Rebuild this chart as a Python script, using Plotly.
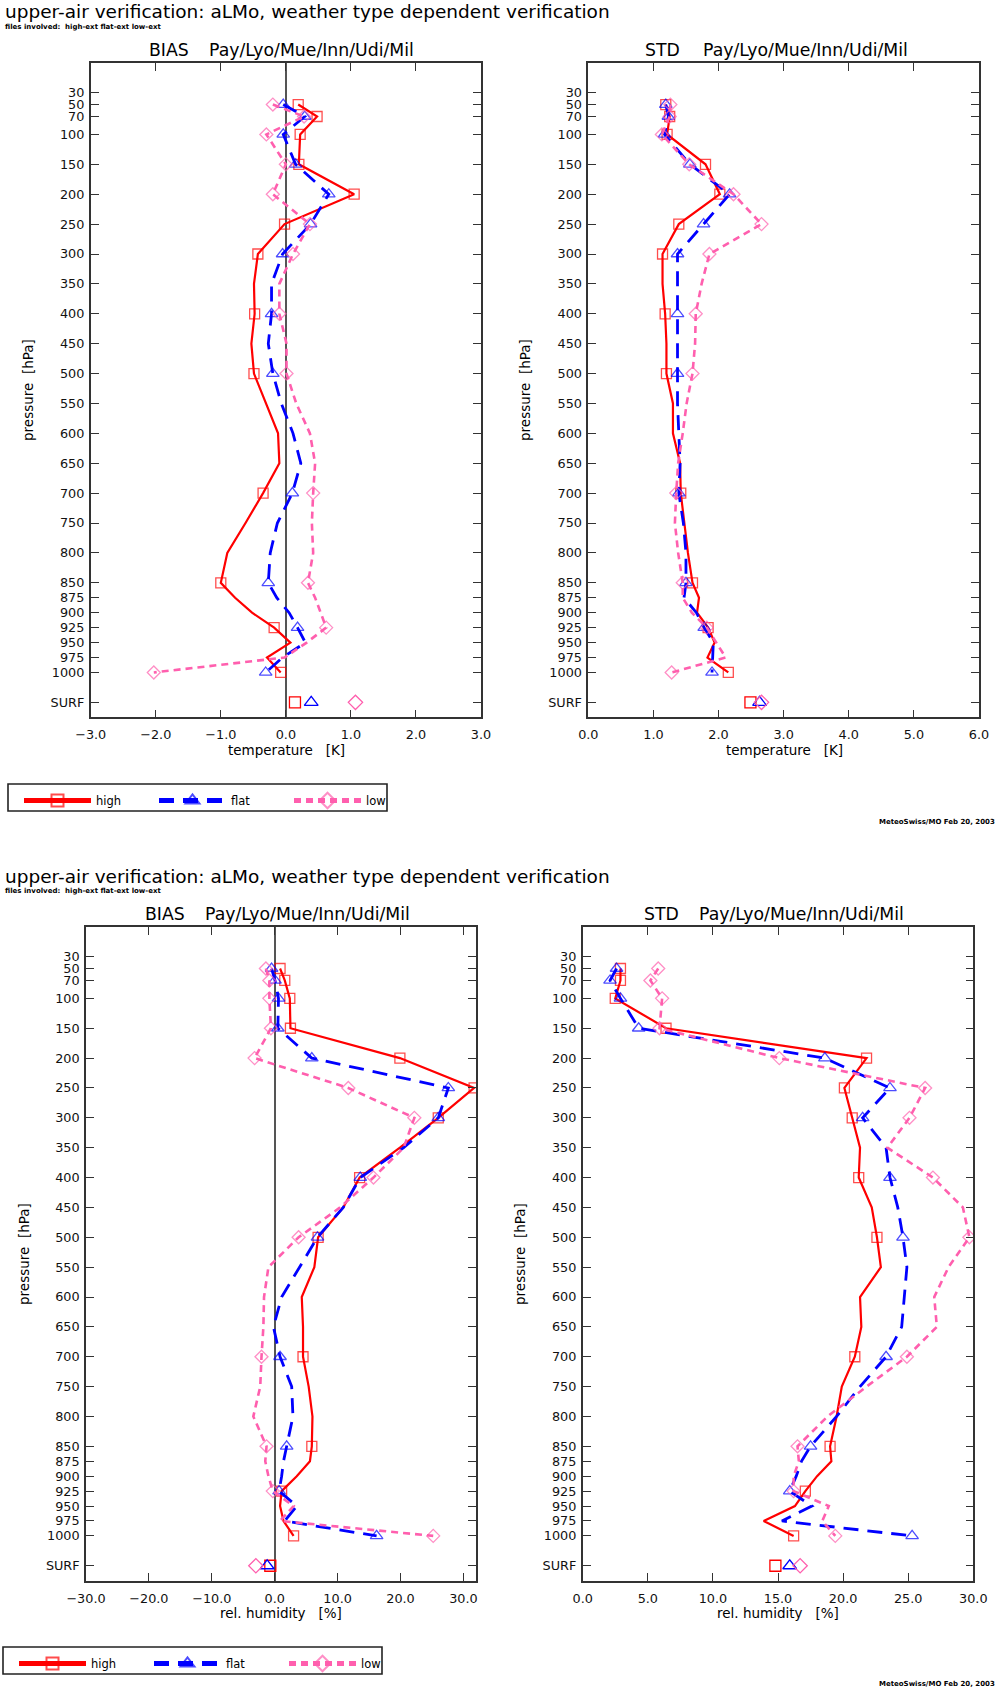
import plotly.graph_objects as go

W, H = 1001, 1691

# ---------------- data ----------------
LEVELS = [50, 70, 100, 150, 200, 250, 300, 350, 400, 450, 500, 550, 600, 650,
          700, 750, 800, 850, 875, 900, 925, 950, 975, 1000]
MARK_LEVELS = [50, 70, 100, 150, 200, 250, 300, 400, 500, 700, 850, 925, 1000]
SURF_P = 1050
P_TICKS = [30, 50, 70, 100, 150, 200, 250, 300, 350, 400, 450, 500, 550, 600,
           650, 700, 750, 800, 850, 875, 900, 925, 950, 975, 1000, 1050]
P_LABELS = [str(p) for p in P_TICKS[:-1]] + ["SURF"]

SERIES = ["high", "flat", "low"]

# temperature bias [K]
T_BIAS_HIGH = [0.19, 0.48, 0.22, 0.20, 1.05, -0.02, -0.43, -0.49, -0.48, -0.53, -0.49, -0.30,
               -0.12, -0.10, -0.35, -0.62, -0.90, -1.00, -0.78, -0.52, -0.18, 0.07, -0.29, -0.08]
T_BIAS_FLAT = [-0.04, 0.29, -0.04, 0.15, 0.66, 0.38, -0.05, -0.22, -0.22, -0.27, -0.20, -0.07,
               0.11, 0.23, 0.10, -0.13, -0.24, -0.27, -0.14, 0.05, 0.18, 0.30, -0.05, -0.31]
T_BIAS_LOW = [-0.20, 0.28, -0.30, 0.00, -0.20, 0.37, 0.11, -0.10, -0.10, 0.01, 0.01, 0.16,
              0.37, 0.45, 0.42, 0.40, 0.42, 0.34, 0.45, 0.54, 0.62, 0.32, -0.02, -2.03]
T_BIAS_SURF = [0.14, 0.39, 1.07]

# temperature std [K]
T_STD_HIGH = [1.19, 1.25, 1.21, 1.80, 2.02, 1.39, 1.14, 1.14, 1.18, 1.20, 1.20, 1.30,
              1.30, 1.41, 1.42, 1.47, 1.53, 1.60, 1.70, 1.67, 1.84, 1.94, 1.83, 2.15]
T_STD_FLAT = [1.19, 1.23, 1.17, 1.56, 2.17, 1.77, 1.37, 1.37, 1.37, 1.36, 1.37, 1.37,
              1.39, 1.41, 1.39, 1.46, 1.50, 1.50, 1.47, 1.66, 1.78, 1.92, 1.91, 1.90]
T_STD_LOW = [1.26, 1.25, 1.13, 1.55, 2.23, 2.66, 1.86, 1.74, 1.65, 1.64, 1.60, 1.51,
             1.45, 1.38, 1.35, 1.33, 1.38, 1.45, 1.45, 1.59, 1.82, 1.97, 2.11, 1.28]
T_STD_SURF = [2.49, 2.63, 2.66]

# relative humidity bias [%]
RH_BIAS_HIGH = [0.85, 1.6, 2.4, 2.5, 19.9, 31.7, 26.0, 19.9, 13.5, 10.9, 6.9, 6.3,
                4.3, 4.5, 4.5, 5.4, 6.0, 5.9, 5.6, 3.5, 1.1, 0.85, 1.4, 3.0]
RH_BIAS_FLAT = [-0.5, 0.05, 0.6, 0.5, 5.9, 27.6, 26.0, 20.5, 13.6, 10.9, 6.8, 4.0,
                1.1, -0.2, 0.85, 2.7, 2.9, 1.9, 1.4, 1.1, 0.7, 3.5, 1.6, 16.2]
RH_BIAS_LOW = [-1.4, -0.85, -0.85, -0.6, -3.2, 11.7, 22.2, 20.5, 15.7, 10.4, 3.8, -1.0,
               -1.7, -1.8, -2.1, -2.3, -3.4, -1.3, -1.5, -1.0, -0.3, 3.0, 0.85, 25.2]
RH_BIAS_SURF = [-0.7, -1.2, -3.0]

# relative humidity std [%]
RH_STD_HIGH = [2.9, 2.9, 2.5, 6.4, 21.8, 20.1, 20.7, 21.3, 21.2, 22.2, 22.6, 22.9,
               21.3, 21.4, 20.9, 19.9, 19.5, 19.0, 19.1, 18.0, 17.1, 16.3, 13.9, 16.2]
RH_STD_FLAT = [2.6, 2.1, 2.9, 4.3, 18.6, 23.6, 21.5, 23.3, 23.6, 24.2, 24.6, 24.9,
               24.7, 24.5, 23.3, 21.3, 19.5, 17.5, 16.8, 16.4, 15.9, 17.6, 15.3, 25.3]
RH_STD_LOW = [5.8, 5.2, 6.1, 5.9, 15.1, 26.3, 25.1, 23.4, 26.9, 29.2, 29.7, 28.1,
              27.0, 27.2, 24.9, 21.8, 18.8, 16.5, 16.6, 16.2, 16.2, 18.9, 18.4, 19.4]
RH_STD_SURF = [14.8, 15.9, 16.7]

T_BIAS_TICKS = [-3, -2, -1, 0, 1, 2, 3]
T_STD_TICKS = [0, 1, 2, 3, 4, 5, 6]
RH_BIAS_TICKS = [-30, -20, -10, 0, 10, 20, 30]
RH_STD_TICKS = [0, 5, 10, 15, 20, 25, 30]

# ---------------- styles ----------------
FONT = "DejaVu Sans"
STYLE = {
    "high": dict(color="#ff0000", dash="solid", width=2.2, symbol="square-open", size=10),
    "flat": dict(color="#0000ff", dash="15px,9px", width=2.8, symbol="triangle-up-open", size=11),
    "low": dict(color="#ff5fae", dash="7px,5px", width=2.6, symbol="diamond-open", size=10),
}


def px(x):
    return x / W


def py(y):
    return 1 - y / H


fig = go.Figure()

panels = [
    ("", [T_BIAS_HIGH, T_BIAS_FLAT, T_BIAS_LOW], T_BIAS_SURF, "legend"),
    ("2", [T_STD_HIGH, T_STD_FLAT, T_STD_LOW], T_STD_SURF, None),
    ("3", [RH_BIAS_HIGH, RH_BIAS_FLAT, RH_BIAS_LOW], RH_BIAS_SURF, "legend2"),
    ("4", [RH_STD_HIGH, RH_STD_FLAT, RH_STD_LOW], RH_STD_SURF, None),
]

for ax, vals, surf, leg in panels:
    for name, v, s in zip(SERIES, vals, surf):
        st = STYLE[name]
        sizes = [st["size"] if p in MARK_LEVELS else 0 for p in LEVELS]
        fig.add_trace(go.Scatter(
            x=v, y=LEVELS, mode="lines+markers", name=name,
            xaxis="x" + ax, yaxis="y" + ax,
            line=dict(color=st["color"], dash=st["dash"], width=st["width"]),
            marker=dict(symbol=st["symbol"], size=sizes, color=st["color"],
                        line=dict(color=st["color"], width=1.3)),
            showlegend=leg is not None, legend=leg if leg else "legend",
            legendgroup=name + (leg or ""),
            hoverinfo="x+y",
        ))
        fig.add_trace(go.Scatter(
            x=[s], y=[SURF_P], mode="markers", name=name,
            xaxis="x" + ax, yaxis="y" + ax,
            marker=dict(symbol=st["symbol"], size=st["size"] + 1, color=st["color"],
                        line=dict(color=st["color"], width=1.3)),
            showlegend=False, hoverinfo="x",
        ))

AXCOL = "#333333"
TICKFONT = dict(family=FONT, size=12.8, color="#111")
common_x = dict(showgrid=False, ticks="inside", ticklen=8, tickwidth=1.3, tickcolor=AXCOL,
                showline=True, linecolor=AXCOL, linewidth=1.6, mirror="ticks",
                tickfont=TICKFONT, tickformat=".1f", ticklabelstandoff=5,
                automargin=False)
common_y = dict(showgrid=False, ticks="inside", ticklen=8, tickwidth=1.3, tickcolor=AXCOL,
                showline=True, linecolor=AXCOL, linewidth=1.6, mirror="ticks",
                tickfont=TICKFONT, tickvals=P_TICKS, ticktext=P_LABELS, range=[1075, -19],
                zeroline=False, automargin=False, ticklabelstandoff=2)

dom = {
    "": ([90.7, 481], [63.3, 717.3]),
    "2": ([588.3, 979], [63.3, 717.3]),
    "3": ([86, 476], [927.3, 1580.7]),
    "4": ([582.7, 973.3], [927.3, 1580.7]),
}
xcfg = {
    "": (T_BIAS_TICKS, [-3, 3], True),
    "2": (T_STD_TICKS, [0, 6], False),
    "3": (RH_BIAS_TICKS, [-30, 32], True),
    "4": (RH_STD_TICKS, [0, 30], False),
}
layout_axes = {}
for ax, ((x0, x1), (y0, y1)) in dom.items():
    ticks, rng, zl = xcfg[ax]
    layout_axes["xaxis" + ax] = dict(common_x, domain=[px(x0), px(x1)], range=rng,
                                     tickvals=ticks, zeroline=zl, zerolinecolor="#555555",
                                     zerolinewidth=1.6, anchor="y" + ax)
    layout_axes["yaxis" + ax] = dict(common_y, domain=[py(y1), py(y0)], anchor="x" + ax)

fig.update_layout(**layout_axes)

ann = []


def text(x, y, t, size, xanchor="left", angle=0, bold=False):
    ann.append(dict(x=px(x), y=py(y), xref="paper", yref="paper",
                    text=("<b>%s</b>" % t) if bold else t,
                    showarrow=False, xanchor=xanchor, yanchor="middle", textangle=angle,
                    font=dict(family=FONT, size=size, color="#000")))


TITLE = "upper-air verification: aLMo, weather type dependent verification"
FILES = "files involved:&nbsp;&nbsp;high-ext flat-ext low-ext"
STATIONS = "Pay/Lyo/Mue/Inn/Udi/Mil"
FOOT = "MeteoSwiss/MO Feb 20, 2003"

for top, ytitle, yfiles, ypanel, yxt, ycenter, xunit, yfoot in [
    (True, 12, 27, 50, 750, 390, "temperature&nbsp;&nbsp;&nbsp;[K]", 822),
    (False, 876, 891, 914, 1613, 1254, "rel. humidity&nbsp;&nbsp;&nbsp;[%]", 1684),
]:
    text(3, ytitle, TITLE, 18.5)
    text(3, yfiles, FILES, 7, bold=True)
    if top:
        text(147, ypanel, "BIAS", 17.3)
        text(207, ypanel, STATIONS, 17.3)
        text(643, ypanel, "STD", 17.3)
        text(701, ypanel, STATIONS, 17.3)
        text(286, yxt, xunit, 13.5, xanchor="center")
        text(784, yxt, xunit, 13.5, xanchor="center")
        text(28, ycenter, "pressure&nbsp;&nbsp;[hPa]", 13.5, xanchor="center", angle=-90)
        text(525, ycenter, "pressure&nbsp;&nbsp;[hPa]", 13.5, xanchor="center", angle=-90)
    else:
        text(143, ypanel, "BIAS", 17.3)
        text(203, ypanel, STATIONS, 17.3)
        text(642, ypanel, "STD", 17.3)
        text(697, ypanel, STATIONS, 17.3)
        text(281, yxt, xunit, 13.5, xanchor="center")
        text(778, yxt, xunit, 13.5, xanchor="center")
        text(24, ycenter, "pressure&nbsp;&nbsp;[hPa]", 13.5, xanchor="center", angle=-90)
        text(520, ycenter, "pressure&nbsp;&nbsp;[hPa]", 13.5, xanchor="center", angle=-90)
    text(997, yfoot, FOOT, 7, xanchor="right", bold=True)

# legend frames
shapes = []
for (x0, x1, y0, y1) in [(8, 387, 784, 811), (3, 382, 1647, 1674)]:
    shapes.append(dict(type="rect", xref="paper", yref="paper",
                       x0=px(x0), x1=px(x1), y0=py(y1), y1=py(y0),
                       line=dict(color="#222", width=1.6), fillcolor="rgba(0,0,0,0)",
                       layer="below"))

leg_common = dict(orientation="h", borderwidth=0, bgcolor="rgba(0,0,0,0)",
                  font=dict(family=FONT, size=11.5, color="#000"), xanchor="left", yanchor="top",
                  itemsizing="constant", itemwidth=67, entrywidth=53, tracegroupgap=0,
                  itemclick=False, itemdoubleclick=False)

fig.update_layout(
    width=W, height=H,
    margin=dict(l=0, r=0, t=0, b=0, autoexpand=False),
    paper_bgcolor="white", plot_bgcolor="white",
    annotations=ann, shapes=shapes,
    legend=dict(leg_common, x=px(19), y=py(786)),
    legend2=dict(leg_common, x=px(14), y=py(1649)),
    font=dict(family=FONT),
)

fig.write_html("out.html",
               config={"displayModeBar": False},
               post_script="document.body.style.margin='0px';"
                           "document.body.style.overflow='hidden';")
